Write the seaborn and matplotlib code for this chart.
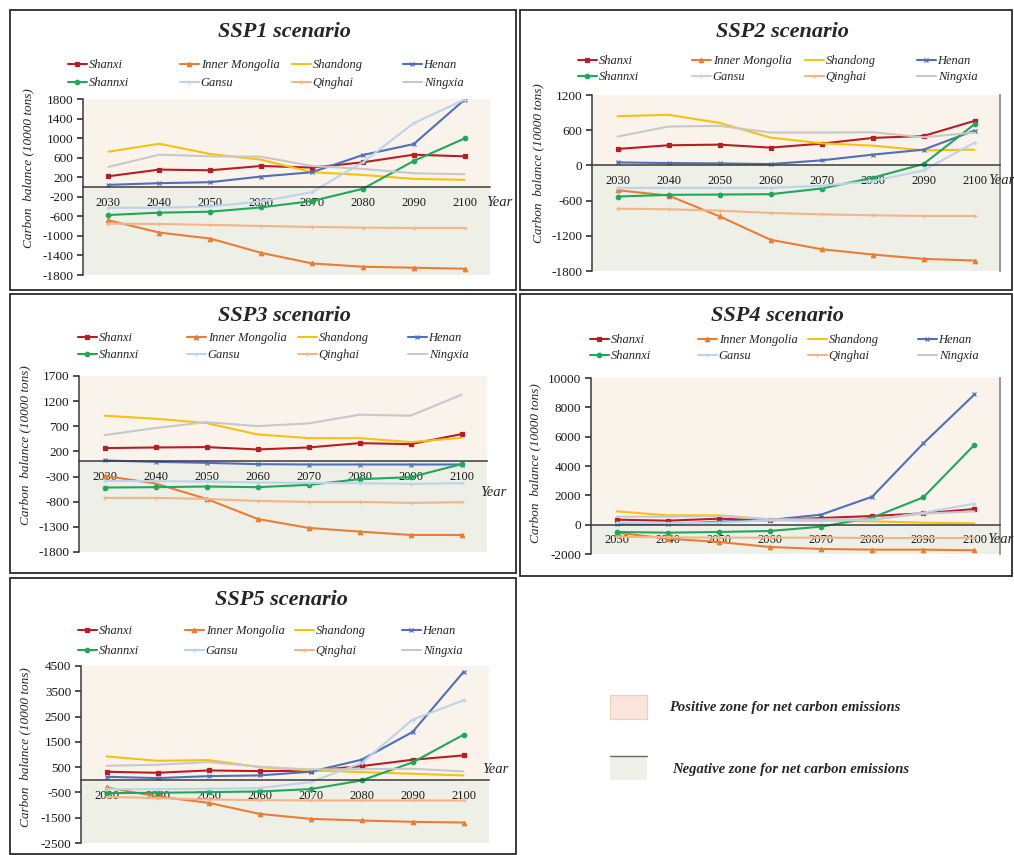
import numpy as np
import seaborn as sns
import matplotlib.pyplot as plt
import matplotlib.transforms as mtransforms
from matplotlib.patches import Rectangle

sns.set_theme(style="white")
plt.rcParams["font.family"] = ["Liberation Serif", "DejaVu Serif"]
plt.rcParams["axes.unicode_minus"] = False

years = [2030, 2040, 2050, 2060, 2070, 2080, 2090, 2100]
regions = ["Shanxi", "Inner Mongolia", "Shandong", "Henan",
           "Shannxi", "Gansu", "Qinghai", "Ningxia"]
colors = ["#b81d24", "#ea7d34", "#f5c211", "#4f6fb8",
          "#1fa85a", "#bcd3ec", "#f3b488", "#c8c8c8"]
markers = ["s", "^", "", "x", "o", "+", "+", ""]

ssp1 = {
    "Shanxi": [220, 356, 342, 430, 397, 505, 661, 627],
    "Inner Mongolia": [-681, -932, -1054, -1346, -1563, -1631, -1651, -1672],
    "Shandong": [722, 885, 675, 559, 302, 247, 166, 146],
    "Henan": [44, 78, 98, 214, 302, 654, 878, 1787],
    "Shannxi": [-573, -525, -505, -417, -288, -37, 532, 993],
    "Gansu": [-424, -424, -397, -295, -105, 505, 1305, 1787],
    "Qinghai": [-749, -756, -776, -797, -817, -831, -837, -837],
    "Ningxia": [410, 661, 627, 620, 430, 370, 281, 261],
}
ssp2 = {
    "Shanxi": [280, 343, 354, 303, 371, 468, 502, 759],
    "Inner Mongolia": [-423, -514, -868, -1268, -1428, -1519, -1593, -1622],
    "Shandong": [839, 862, 725, 474, 377, 337, 257, 268],
    "Henan": [51, 40, 34, 23, 86, 183, 268, 594],
    "Shannxi": [-531, -502, -497, -491, -394, -211, 23, 702],
    "Gansu": [-383, -383, -383, -383, -348, -268, -86, 388],
    "Qinghai": [-737, -748, -771, -811, -834, -851, -862, -862],
    "Ningxia": [491, 662, 674, 560, 560, 565, 480, 560],
}
ssp3 = {
    "Shanxi": [266, 279, 286, 239, 279, 365, 345, 544],
    "Inner Mongolia": [-286, -438, -744, -1142, -1321, -1394, -1461, -1461],
    "Shandong": [910, 850, 764, 538, 465, 465, 385, 471],
    "Henan": [20, -7, -27, -53, -60, -60, -60, -60],
    "Shannxi": [-518, -511, -498, -511, -465, -352, -312, -53],
    "Gansu": [-385, -392, -398, -418, -425, -432, -445, -432],
    "Qinghai": [-724, -724, -744, -784, -804, -804, -823, -810],
    "Ningxia": [525, 664, 783, 704, 757, 930, 910, 1328],
}
ssp4 = {
    "Shanxi": [340, 272, 408, 295, 454, 590, 772, 1067],
    "Inner Mongolia": [-545, -953, -1180, -1521, -1657, -1703, -1703, -1748],
    "Shandong": [908, 636, 636, 363, 272, 227, 136, 91],
    "Henan": [45, 45, 204, 318, 681, 1907, 5539, 8876],
    "Shannxi": [-499, -545, -499, -431, -136, 477, 1862, 5448],
    "Gansu": [136, 91, 136, 295, 250, 318, 817, 1430],
    "Qinghai": [-817, -863, -885, -885, -885, -908, -908, -908],
    "Ningxia": [545, 545, 590, 363, 363, 363, 749, 908],
}
ssp5 = {
    "Shanxi": [317, 277, 370, 343, 356, 541, 792, 964],
    "Inner Mongolia": [-304, -660, -911, -1347, -1545, -1610, -1663, -1690],
    "Shandong": [924, 752, 779, 502, 370, 304, 238, 172],
    "Henan": [119, 66, 145, 172, 317, 792, 1888, 4264],
    "Shannxi": [-528, -515, -488, -462, -370, -26, 686, 1782],
    "Gansu": [-370, -370, -356, -330, -92, 660, 2376, 3142],
    "Qinghai": [-673, -726, -779, -805, -818, -818, -818, -818],
    "Ningxia": [554, 594, 700, 515, 409, 422, 436, 330],
}

POS_C = "#faf3ec"
NEG_C = "#eef0e7"
W, H = 1014, 855

fig = plt.figure(figsize=(W / 100, H / 100), dpi=100)
# pixel coords, origin top-left
px = mtransforms.Affine2D().scale(1 / W, -1 / H).translate(0, 1) + fig.transFigure


def frac(l, t, r, b):
    return [l / W, 1 - b / H, (r - l) / W, (b - t) / H]


# data, title, yticks, axes box, border, title xy, legend rows, legend cols, ylabel xy, "Year" xy, right line
panels = [
    (ssp1, "SSP1 scenario", np.arange(-1800, 1801, 400), (83, 99, 490, 275),
     (10, 10, 516, 290), (284, 32), (65, 83), (68, 180, 292, 403), (28, 168), (486, 202), False),
    (ssp2, "SSP2 scenario", np.arange(-1800, 1201, 600), (592, 95, 1000, 271),
     (520, 10, 1012, 290), (782, 32), (61, 77), (578, 692, 805, 917), (538, 163), (988, 181), True),
    (ssp3, "SSP3 scenario", np.arange(-1800, 1701, 500), (79, 376, 487, 552),
     (10, 294, 516, 573), (284, 316), (338, 355), (78, 187, 298, 408), (25, 445), (480, 492), False),
    (ssp4, "SSP4 scenario", np.arange(-2000, 10001, 2000), (591, 378, 1000, 554),
     (520, 294, 1012, 576), (777, 316), (340, 356), (590, 698, 808, 918), (535, 463), (987, 539), True),
    (ssp5, "SSP5 scenario", np.arange(-2500, 4501, 1000), (81, 666, 489, 843),
     (10, 578, 516, 854), (281, 600), (631, 651), (78, 185, 295, 402), (25, 747), (482, 769), False),
]

for (data, title, yticks, abox, border, tpos, lrows, lcols, ylpos, yrpos, rline) in panels:
    fig.patches.append(Rectangle((border[0] / W, 1 - border[3] / H),
                                 (border[2] - border[0]) / W, (border[3] - border[1]) / H,
                                 transform=fig.transFigure, fill=False,
                                 edgecolor="#2b2b2b", linewidth=1.3))
    ax = fig.add_axes(frac(*abox))
    ymin, ymax = yticks[0], yticks[-1]
    ax.axhspan(0, ymax, color=POS_C, lw=0, zorder=0)
    ax.axhspan(ymin, 0, color=NEG_C, lw=0, zorder=0)

    for name, c, m in zip(regions, colors, markers):
        sns.lineplot(x=years, y=data[name], color=c, marker=m, markersize=3.2,
                     markeredgecolor=c, markeredgewidth=0.9, linewidth=1.5, ax=ax)

    ax.set_xlim(2025, 2105)
    ax.set_ylim(ymin, ymax)
    ax.set_yticks(yticks)
    ax.set_xticks(years)
    ax.set_xticks(np.arange(2025, 2106, 10), minor=True)
    ax.set_xlabel("")
    ax.set_ylabel("")
    ax.spines["bottom"].set_position(("data", 0))
    ax.spines["top"].set_visible(False)
    ax.spines["right"].set_visible(rline)
    ax.spines["right"].set_color("#8a8a8a")
    for s in ("bottom", "left"):
        ax.spines[s].set_color("#3a3a3a")
        ax.spines[s].set_linewidth(1.1)
    ax.tick_params(axis="x", which="major", length=0, pad=7, labelsize=9, colors="#1a1a1a")
    ax.tick_params(axis="x", which="minor", length=4, direction="out", color="#3a3a3a", width=1)
    ax.tick_params(axis="y", length=4, direction="out", left=True, labelsize=9.5,
                   color="#3a3a3a", colors="#1a1a1a", pad=3)
    ax.tick_params(axis="y", which="both", color="#3a3a3a")

    fig.text(tpos[0], tpos[1], title, transform=px, ha="center", va="center",
             fontsize=16, fontweight="bold", fontstyle="italic")
    fig.text(ylpos[0], ylpos[1], "Carbon  balance (10000 tons)", transform=px,
             rotation=90, ha="center", va="center", fontsize=9.5, fontstyle="italic")
    fig.text(yrpos[0], yrpos[1], "Year", transform=px, ha="left", va="center",
             fontsize=10.5, fontstyle="italic")

    lines = ax.get_lines()
    for i, name in enumerate(regions):
        x = lcols[i % 4]
        y = lrows[i // 4]
        fig.legend([lines[i]], [name], loc="center left", bbox_to_anchor=(x, y),
                   bbox_transform=px, frameon=False, borderpad=0, borderaxespad=0,
                   handlelength=1.5, handletextpad=0.15,
                   prop={"size": 9, "style": "italic"})

# zone key
fig.patches.append(Rectangle(frac(610, 695, 647, 719)[:2], 37 / W, 24 / H,
                             transform=fig.transFigure, facecolor="#fbe4d9",
                             edgecolor="#e8d0c4", linewidth=0.8))
fig.patches.append(Rectangle(frac(610, 756, 647, 780)[:2], 37 / W, 24 / H,
                             transform=fig.transFigure, facecolor=NEG_C, edgecolor="none"))
fig.lines.append(plt.Line2D([610 / W, 647 / W], [1 - 756 / H, 1 - 756 / H],
                            transform=fig.transFigure, color="#6a6a6a", linewidth=1))
fig.text(669, 707, "Positive zone for net carbon emissions", transform=px,
         ha="left", va="center", fontsize=10.5, fontweight="bold", fontstyle="italic")
fig.text(672, 769, "Negative zone for net carbon emissions", transform=px,
         ha="left", va="center", fontsize=10.5, fontweight="bold", fontstyle="italic")

fig.savefig("out.png", dpi=100)
